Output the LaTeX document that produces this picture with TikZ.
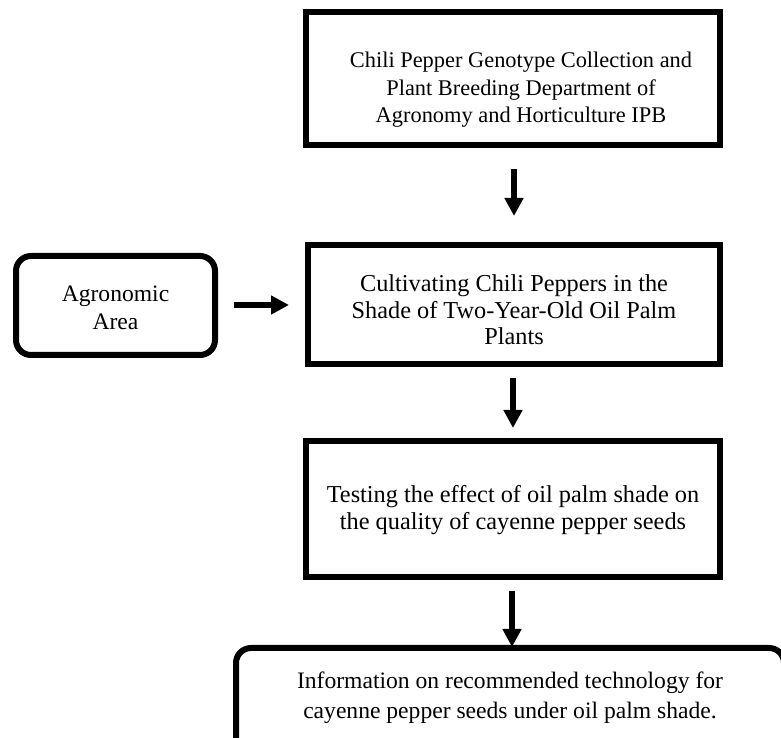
\documentclass[tikz,border=0pt]{standalone}
\usepackage{fontspec}
\setmainfont{Liberation Serif}
\usetikzlibrary{arrows.meta}
\begin{document}
\begin{tikzpicture}[x=1pt,y=1pt,
  box/.style={draw=black, line width=6pt, outer sep=0pt, inner sep=0pt, fill=none},
  rbox/.style={box, rounded corners=15pt},
  txt/.style={align=center, inner sep=0pt},
  arr/.style={line width=6pt, -{Triangle[width=18pt,length=18pt]}}]
\useasboundingbox (0,0) rectangle (781,738);
\fill[white] (0,0) rectangle (781,738);
\clip (0,0) rectangle (781,738);
% boxes
\node[box, minimum width=414pt, minimum height=133pt] (b1) at (513,659.5) {};
\node[txt, font=\fontsize{22.4}{27.5}\selectfont] (t1) at (521,648) {Chili Pepper Genotype Collection and\\Plant Breeding Department of\\Agronomy and Horticulture IPB};
\node[box, minimum width=412pt, minimum height=119pt] (b2) at (514,433.5) {};
\node[txt, font=\fontsize{24.3}{26.5}\selectfont] (t2) at (514,428) {Cultivating Chili Peppers in the\\Shade of Two-Year-Old Oil Palm\\Plants};
\node[box, minimum width=414pt, minimum height=136pt] (b3) at (513,229) {};
\node[txt, font=\fontsize{24.3}{27}\selectfont] (t3) at (513,228) {Testing the effect of oil palm shade on\\the quality of cayenne pepper seeds};
\node[rbox, minimum width=548pt, minimum height=130pt] (b4) at (510,25) {};
\node[txt, font=\fontsize{23.6}{30}\selectfont] (t4) at (510,40) {Information on recommended technology for\\cayenne pepper seeds under oil palm shade.};
\node[rbox, minimum width=199pt, minimum height=99pt] (ag) at (115.5,432.5) {};
\node[txt, font=\fontsize{23.6}{28}\selectfont] (tag) at (115.5,430) {Agronomic\\Area};
% arrows
\draw[arr] ([xshift=1pt,yshift=-24pt]b1.south) -- ([yshift=29pt]b2.north);
\draw[arr] ([xshift=-1pt,yshift=-14pt]b2.south) -- ([yshift=13pt]b3.north);
\draw[arr] ([xshift=-1pt,yshift=-14pt]b3.south) -- ([xshift=2pt,yshift=1pt]b4.north);
\draw[arr] ([xshift=19pt,yshift=0.5pt]ag.east) -- ([xshift=-19pt,yshift=-0.5pt]b2.west);
\end{tikzpicture}
\end{document}
